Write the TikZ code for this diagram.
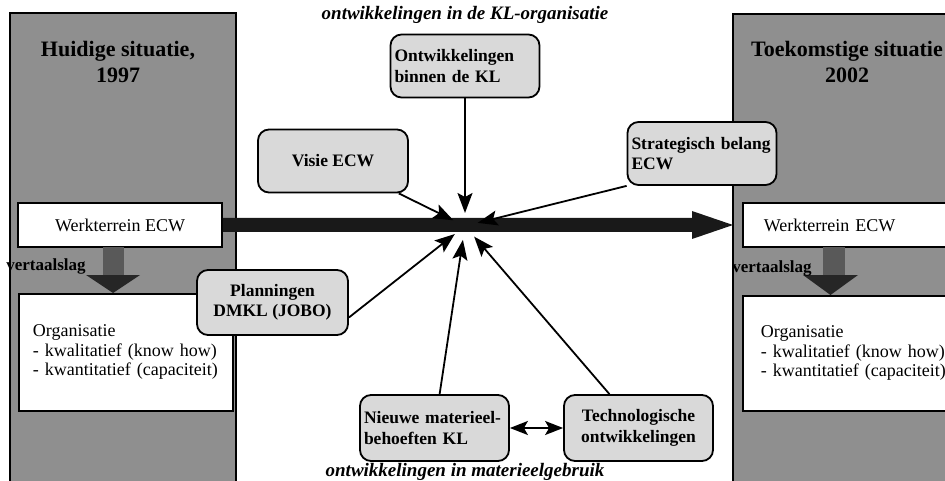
\documentclass[tikz,border=0pt]{standalone}
\usepackage{fontspec}
\setmainfont{Liberation Serif}
\usetikzlibrary{arrows.meta,calc}
\definecolor{panelgray}{gray}{0.56}
\definecolor{boxgray}{gray}{0.85}

\begin{document}
\begin{tikzpicture}[x=1pt,y=-1pt,
  panel/.style={fill=panelgray,draw=black,line width=1.8pt},
  whitebox/.style={draw,fill=white,line width=1.8pt,font=\fontsize{18}{19.5}\selectfont},
  infobox/.style={draw,fill=boxgray,rounded corners=11pt,line width=1.8pt,inner xsep=4pt,inner ysep=0pt,minimum height=63pt,font=\fontsize{17.5}{20.5}\selectfont\bfseries},
  title/.style={font=\fontsize{22}{26}\selectfont\bfseries,align=center},
  theme/.style={font=\fontsize{19}{20}\selectfont\bfseries\itshape},
  slaglabel/.style={font=\fontsize{17}{20}\selectfont\bfseries},
  conn/.style={line width=1.8pt,-{Stealth[length=20pt,width=15pt,inset=4pt]}},
  twoway/.style={line width=1.8pt,{Stealth[length=18pt,width=14pt,inset=4pt]}-{Stealth[length=18pt,width=14pt,inset=4pt]}}]
\useasboundingbox (0,0) rectangle (945,481);
\clip (0,0) rectangle (945,481);

% huidige situatie
\draw[panel] (10,13) rectangle (236,495);
\node[title] (huidig) at (118,62) {Huidige situatie,\\1997};
\node[whitebox,minimum width=204pt,minimum height=44pt] (werkL) at (120,225) {Werkterrein ECW};
\node[whitebox,anchor=north west,minimum height=117pt,text width=186pt,inner xsep=14pt,align=left] (orgL) at (18,293) {Organisatie\\- kwalitatief (know how)\\- kwantitatief (capaciteit)\\[6pt]};

% toekomstige situatie
\draw[panel] (733,14) rectangle (960,495);
\node[title] (toekomst) at (847,62) {Toekomstige situatie\\2002};
\node[whitebox,anchor=west,minimum height=44pt,text width=168pt,inner xsep=21pt,align=left] (werkR) at (742,225) {Werkterrein ECW};
\node[whitebox,anchor=north west,minimum height=115pt,text width=186pt,inner xsep=18pt,align=left] (orgR) at (742,295) {Organisatie\\- kwalitatief (know how)\\- kwantitatief (capaciteit)\\[6pt]};

% grote pijl
\fill[black!90] ($(werkL.east)+(0,-7)$) -- ($(werkR.west)+(-50,-7)$) -- ($(werkR.west)+(-50,-14)$)
  -- ($(werkR.west)+(-9,0)$) -- ($(werkR.west)+(-50,14)$) -- ($(werkR.west)+(-50,7)$)
  -- ($(werkL.east)+(0,7)$) -- cycle;

% vertaalslag
\fill[black!65] (103,247) rectangle (124,276);
\fill[black!85] (86,275) -- (140,275) -- (113,293) -- cycle;
\node[slaglabel] (slagL) at (46,266) {vertaalslag};
\fill[black!65] (823,247) rectangle (845,276);
\fill[black!85] (803,275) -- (858,275) -- (830.5,295) -- cycle;
\node[slaglabel] (slagR) at (772,268) {vertaalslag};

% ontwikkelingen
\coordinate (hub) at (465,226);
\node[theme] (orgtheme) at (465,15) {ontwikkelingen in de KL-organisatie};
\node[infobox,text width=141pt,align=left] (ontw) at (465,66) {Ontwikkelingen\\binnen de KL};
\node[infobox,minimum width=150pt] (visie) at (333,161) {Visie ECW};
\node[infobox,text width=141pt,align=left] (strat) at (702,153.5) {Strategisch belang\\ECW};
\node[infobox,minimum width=151pt,minimum height=65pt,align=center] (plan) at (272.5,302.5) {Planningen\\DMKL (JOBO)};
\node[infobox,text width=141pt,minimum height=66pt,align=left] (nieuw) at (434.5,428) {Nieuwe materieel-\\behoeften KL};
\node[infobox,minimum width=149pt,minimum height=66pt,align=center] (techno) at (638.5,428) {Technologische\\ontwikkelingen};
\node[theme] (gebruik) at (465,472) {ontwikkelingen in materieelgebruik};

\draw[conn,shorten >=13pt] (ontw) -- (hub);
\draw[conn,shorten >=13pt] (visie) -- (hub);
\draw[conn,shorten >=13pt] (strat.south west) -- (hub);
\draw[conn,shorten >=13pt] ($(plan.east)+(0,15)$) -- (hub);
\draw[conn,shorten >=14pt] (nieuw) -- (hub);
\draw[conn,shorten >=14pt] (techno) -- (hub);
\draw[twoway] (nieuw) -- (techno);
\end{tikzpicture}
\end{document}
